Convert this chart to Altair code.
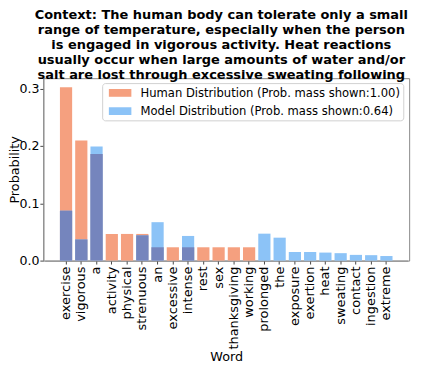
import altair as alt
import pandas as pd

words = ["exercise", "vigorous", "a", "activity", "physical", "strenuous", "an",
         "excessive", "intense", "rest", "sex", "thanksgiving", "working",
         "prolonged", "the", "exposure", "exertion", "heat", "sweating",
         "contact", "ingestion", "extreme"]
human = [13/43, 9/43, 8/43, 2/43, 2/43, 2/43, 1/43, 1/43, 1/43, 1/43, 1/43, 1/43, 1/43,
         0, 0, 0, 0, 0, 0, 0, 0, 0]
model = [0.087, 0.037, 0.199, 0, 0, 0.044, 0.067, 0, 0.043, 0, 0, 0, 0,
         0.047, 0.040, 0.015, 0.015, 0.014, 0.013, 0.010, 0.0095, 0.008]
series = ["Human Distribution (Prob. mass shown:1.00)",
          "Model Distribution (Prob. mass shown:0.64)"]
colors = ["#f5a07f", "#8cc3f7"]
overlap_color = "#7585bd"
title_lines = [
    "Context: The human body can tolerate only a small",
    "range of temperature, especially when the person",
    "is engaged in vigorous activity. Heat reactions",
    "usually occur when large amounts of water and/or",
    "salt are lost through excessive sweating following",
]

rows = []
for w, h in zip(words, human):
    rows.append({"word": w, "series": series[0], "value": h})
for w, m in zip(words, model):
    rows.append({"word": w, "series": series[1], "value": m})
df = pd.DataFrame(rows)
df = df[df["value"] > 0]
ov = pd.DataFrame({"word": words, "value": [min(h, m) for h, m in zip(human, model)]})
ov = ov[ov["value"] > 0]

font = "DejaVu Sans"
xscale = alt.Scale(paddingInner=0.2, paddingOuter=1, range=[1.4, 371.6])
xenc = alt.X("word:N", sort=words, title="Word", scale=xscale,
             axis=alt.Axis(labelAngle=-90, labelFontSize=13.2, titleFontSize=13,
                           labelFont=font, titleFont=font, labelColor="black",
                           titleColor="black", titleFontWeight="normal",
                           domainColor="#888", tickColor="#444", tickSize=3.5,
                           labelPadding=2, titlePadding=2))
yscale = alt.Scale(domain=[0, 0.318], nice=False)
yaxis = alt.Axis(values=[0, 0.1, 0.2, 0.3], format=".1f", grid=False,
                 labelFontSize=12.8, titleFontSize=13, labelFont=font, titleFont=font,
                 labelColor="black", titleColor="black", titleFontWeight="normal",
                 domainColor="#888", tickColor="#444", tickSize=3.5, labelPadding=1,
                 titleX=-29, titleBaseline="middle", titleAngle=-90)

bars = alt.Chart(df).mark_bar(opacity=1).encode(
    x=xenc,
    y=alt.Y("value:Q", title="Probability", scale=yscale, axis=yaxis, stack=None),
    color=alt.Color("series:N", scale=alt.Scale(domain=series, range=colors),
                    legend=alt.Legend(title=None, orient="none", legendX=60, legendY=5,
                                      labelFont=font, labelFontSize=11.8, labelColor="black",
                                      labelLimit=0,
                                      symbolType="M-0.44,-0.55L2.75,-0.55L2.75,0.55L-0.44,0.55Z",
                                      symbolSize=207, symbolStrokeWidth=0,
                                      symbolOpacity=1, rowPadding=3.6, labelOffset=21.6,
                                      fillColor="white", strokeColor="#d0d0d0",
                                      cornerRadius=3, padding=2.5)),
    order=alt.Order("series:N"),
)
over = alt.Chart(ov).mark_bar(color=overlap_color, opacity=1).encode(
    x=alt.X("word:N", sort=words, scale=xscale),
    y=alt.Y("value:Q", scale=yscale),
)

chart = alt.layer(bars, over).properties(
    width=373, height=186,
    title=alt.Title(title_lines, font=font, fontSize=13.2, fontWeight="bold",
                    color="black", anchor="middle", lineHeight=15.2, offset=-4, dx=-5),
    autosize=alt.AutoSizeParams(type="none"),
    padding={"left": 36, "top": 68, "right": 8, "bottom": 110},
).configure_view(stroke="#888", strokeWidth=1)

chart.save("out.html", embed_options={"renderer": "svg", "actions": False})
